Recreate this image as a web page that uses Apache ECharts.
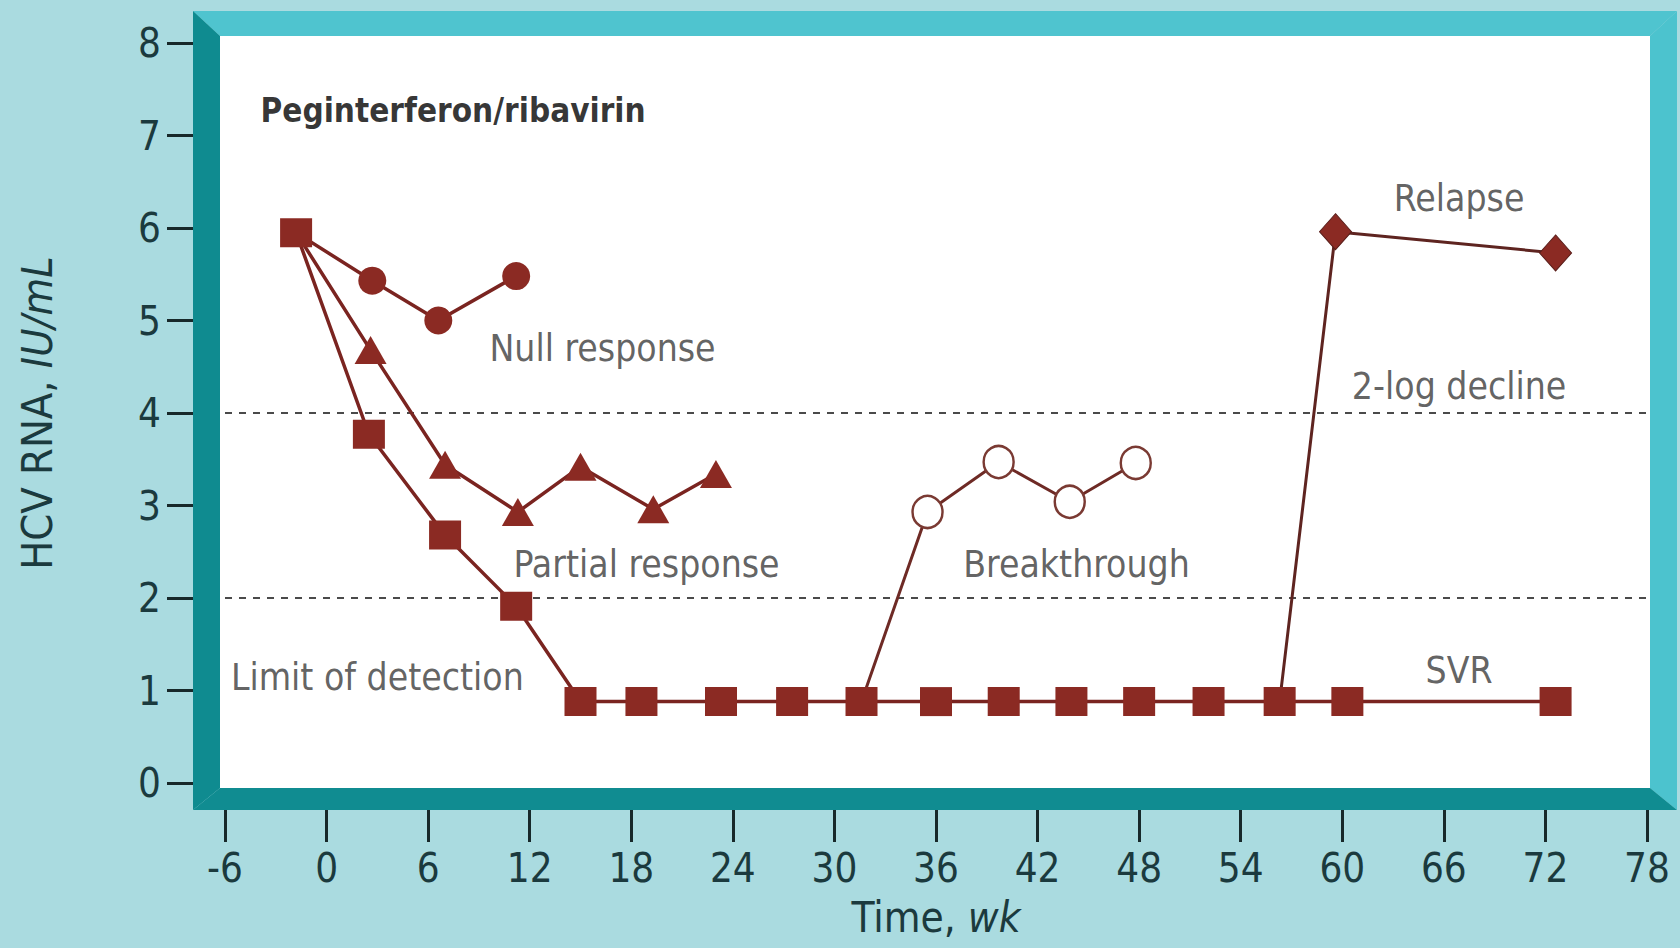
<!DOCTYPE html>
<html>
<head>
<meta charset="utf-8">
<script src="https://cdn.jsdelivr.net/npm/echarts@6/dist/echarts.min.js"></script>
<style>
html,body{margin:0;padding:0;background:#aadbe0;}
#chart{width:1680px;height:948px;}
</style>
</head>
<body>
<div id="chart"></div>
<script>
// ---- data (weeks, log10 HCV RNA IU/mL) ----
const xTicks = [-6,0,6,12,18,24,30,36,42,48,54,60,66,72,78];
const yTicks = [0,1,2,3,4,5,6,7,8];

const svrX = [-1.8, 2.5, 7.0, 11.2, 15.0, 18.6, 23.3, 27.5, 31.6, 36.0, 40.0, 44.0, 48.0, 52.1, 56.3, 60.3, 72.6];
const svrY = [5.95, 3.77, 2.68, 1.91, 0.88, 0.88, 0.88, 0.88, 0.88, 0.88, 0.88, 0.88, 0.88, 0.88, 0.88, 0.88, 0.88];

const nullX = [-1.8, 2.7, 6.6, 11.2];
const nullY = [5.95, 5.43, 5.0, 5.48];

const partialX = [-1.8, 2.6, 7.0, 11.3, 15.0, 19.3, 23.0];
const partialY = [5.95, 4.68, 3.44, 2.93, 3.42, 2.96, 3.34];

const breakX = [31.6, 35.5, 39.7, 43.9, 47.8];
const breakY = [0.88, 2.93, 3.47, 3.04, 3.46];

const relapseX = [56.3, 59.6, 72.6];
const relapseY = [0.88, 5.96, 5.73];

const thresholds = [4, 2];

const labelTexts = ['Null response', '2-log decline', 'Relapse', 'Partial response', 'Breakthrough', 'Limit of detection', 'SVR'];
const labelX = [16.3, 66.9, 66.9, 18.9, 44.3, 3.0, 66.9];
const labelY = [4.70, 4.29, 6.32, 2.36, 2.36, 1.14, 1.22];

const titleText = 'Peginterferon/ribavirin';
const titleX = -3.9;
const titleY = 7.27;

// ---- styling ----
const RED = '#8b2a23';
const LINE = '#7a2420';
const FONT = '"DejaVu Sans Condensed", "Liberation Sans Narrow", "DejaVu Sans", sans-serif';
const AXIS_TXT = '#1b3a3e';

function pairs(xs, ys) { return xs.map((x, i) => [x, ys[i]]); }
function firstHidden(xs, ys) {
  return xs.map((x, i) => i === 0 ? { value: [x, ys[i]], symbol: 'none' } : [x, ys[i]]);
}

const chart = echarts.init(document.getElementById('chart'), null, { renderer: 'svg' });

const option = {
  backgroundColor: '#aadbe0',
  animation: false,
  grid: { left: 225, right: 33, top: 43, bottom: 165, containLabel: false },
  graphic: [
    { type: 'rect', z: -10, silent: true, shape: { x: 220, y: 36, width: 1430, height: 752 }, style: { fill: '#ffffff' } },
    { type: 'polygon', z: -5, silent: true, shape: { points: [[193,11],[1677,11],[1650,36],[220,36]] }, style: { fill: '#4fc4cf' } },
    { type: 'polygon', z: -5, silent: true, shape: { points: [[1650,36],[1677,11],[1677,810],[1650,788]] }, style: { fill: '#4cc3ce' } },
    { type: 'polygon', z: -4, silent: true, shape: { points: [[193,11],[220,36],[220,788],[193,810]] }, style: { fill: '#0f8b90' } },
    { type: 'polygon', z: -4, silent: true, shape: { points: [[193,810],[220,788],[1650,788],[1677,810]] }, style: { fill: '#108c91' } }
  ],
  xAxis: {
    type: 'value', min: -6, max: 78, interval: 6,
    offset: 27,
    axisLine: { show: false, onZero: false },
    axisTick: { show: true, length: 32, lineStyle: { color: '#17282a', width: 3 }, customValues: xTicks },
    splitLine: { show: false },
    axisLabel: { margin: 38, fontFamily: FONT, fontSize: 40, color: AXIS_TXT, customValues: xTicks },
    name: '{n|Time, }{i|wk}',
    nameLocation: 'middle', nameGap: 86,
    nameTextStyle: {
      rich: {
        n: { fontFamily: FONT, fontSize: 42, color: AXIS_TXT },
        i: { fontFamily: FONT, fontSize: 42, color: AXIS_TXT, fontStyle: 'italic' }
      }
    }
  },
  yAxis: {
    type: 'value', min: 0, max: 8, interval: 1,
    offset: 32,
    axisLine: { show: false, onZero: false },
    axisTick: { show: true, length: 26, lineStyle: { color: '#17282a', width: 3 }, customValues: yTicks },
    splitLine: { show: false },
    axisLabel: { margin: 32, fontFamily: FONT, fontSize: 40, color: AXIS_TXT, customValues: yTicks },
    name: '{n|HCV RNA, }{i|IU/mL}',
    nameLocation: 'middle', nameGap: 135, nameRotate: 90,
    nameTextStyle: {
      rich: {
        n: { fontFamily: FONT, fontSize: 43, color: AXIS_TXT },
        i: { fontFamily: FONT, fontSize: 43, color: AXIS_TXT, fontStyle: 'italic' }
      }
    }
  },
  series: [
    {
      name: 'Null response', type: 'line', z: 3,
      data: firstHidden(nullX, nullY),
      symbol: 'circle', symbolSize: 28,
      itemStyle: { color: RED },
      lineStyle: { color: LINE, width: 3.5 }
    },
    {
      name: 'Partial response', type: 'line', z: 3,
      data: firstHidden(partialX, partialY),
      symbol: 'triangle', symbolSize: [32, 28],
      itemStyle: { color: RED },
      lineStyle: { color: LINE, width: 3.5 }
    },
    {
      name: 'Breakthrough', type: 'line', z: 3,
      data: firstHidden(breakX, breakY),
      symbol: 'circle', symbolSize: [30, 32],
      showAllSymbol: true,
      itemStyle: { color: '#ffffff', borderColor: '#7a3a33', borderWidth: 2.5 },
      lineStyle: { color: '#6e2a25', width: 3 }
    },
    {
      name: 'Relapse', type: 'line', z: 3,
      data: firstHidden(relapseX, relapseY),
      symbol: 'diamond', symbolSize: [32, 36],
      itemStyle: { color: RED, borderColor: '#5a1e1a', borderWidth: 1 },
      lineStyle: { color: '#5e2420', width: 3 }
    },
    {
      name: 'SVR', type: 'line', z: 5,
      data: pairs(svrX, svrY),
      symbol: 'rect', symbolSize: [32, 29],
      showAllSymbol: true,
      itemStyle: { color: RED },
      lineStyle: { color: LINE, width: 3.5 },
      markLine: {
        silent: true, symbol: 'none', z: 1,
        label: { show: false },
        lineStyle: { color: '#4a4a4a', width: 2, type: [7, 7] },
        data: thresholds.map(v => ({ yAxis: v }))
      }
    },
    {
      name: 'labels', type: 'scatter', z: 6, silent: true,
      symbolSize: 0,
      data: labelTexts.map((t, i) => ({ value: [labelX[i], labelY[i]], name: t })),
      label: {
        show: true, position: 'inside', formatter: p => p.name,
        fontFamily: FONT, fontSize: 37, color: '#3a3a3a'
      }
    },
    {
      name: 'title', type: 'scatter', z: 6, silent: true,
      symbolSize: 0,
      data: [{ value: [titleX, titleY], name: titleText }],
      label: {
        show: true, position: 'inside', align: 'left', formatter: p => p.name,
        fontFamily: FONT, fontSize: 33, fontWeight: 'bold', color: '#000000'
      }
    }
  ]
};
chart.setOption(option);
</script>
</body>
</html>
